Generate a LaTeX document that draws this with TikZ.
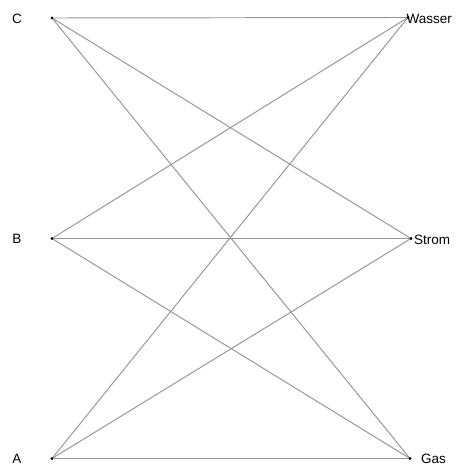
\documentclass[tikz,border=0pt]{standalone}
\usepackage{fontspec}
\setmainfont{Liberation Sans}
\begin{document}
\begin{tikzpicture}[x=1pt,y=-1pt,
  vertex/.style={circle,fill=black,inner sep=0pt,minimum size=2.6pt},
  lbl/.style={inner sep=0pt,font=\fontsize{13.5}{16}\selectfont},
  edge/.style={draw=black!42,line width=0.95pt}]
\useasboundingbox (0,0) rectangle (462,465);
% left vertices
\node[vertex] (C) at (52,18) {};
\node[vertex] (B) at (52,238.5) {};
\node[vertex] (A) at (52,458.5) {};
% right vertices
\node[vertex] (W) at (408,17.5) {};
\node[vertex] (S) at (411,238.5) {};
\node[vertex] (G) at (410,458.5) {};
% every left vertex joined to every right vertex
\foreach \l in {C,B,A}
  \foreach \r in {W,S,G}
    \draw[edge] (\l) -- (\r);
\foreach \v in {C,B,A,W,S,G}
  \fill (\v) circle (1.3pt);
% labels
\node[lbl] (lc) at (17,18.5) {C};
\node[lbl] (lb) at (17,239) {B};
\node[lbl] (la) at (17,458.5) {A};
\node[lbl,anchor=west] (lw) at (406.5,18.5) {Wasser};
\node[lbl,anchor=west] (ls) at (414,239.5) {Strom};
\node[lbl,anchor=west] (lg) at (421,458.5) {Gas};
\end{tikzpicture}
\end{document}
